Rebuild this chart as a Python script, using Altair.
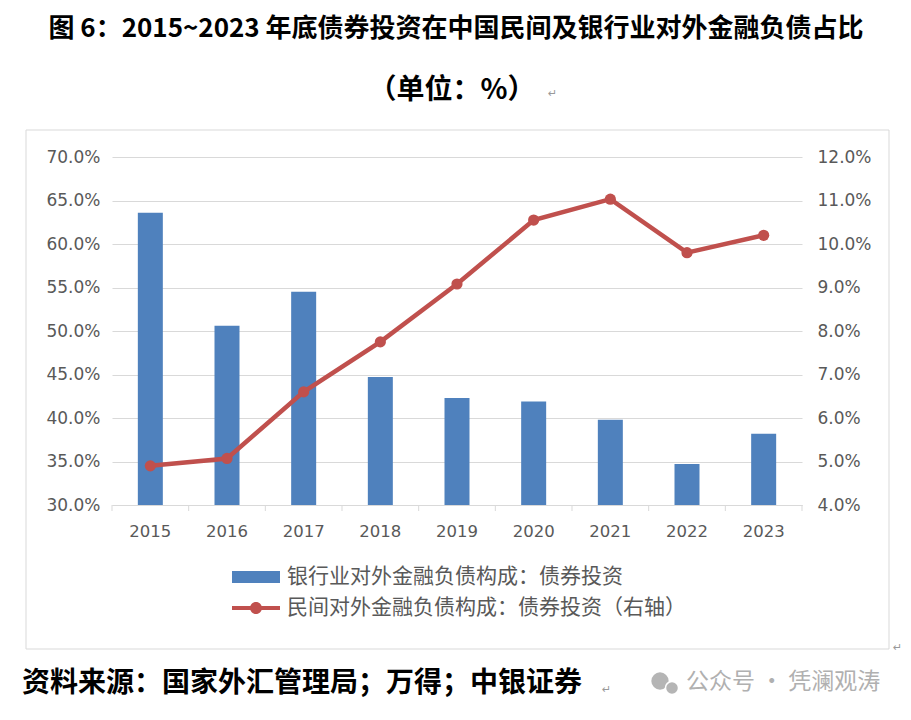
import altair as alt
import pandas as pd

# ---------------- data ----------------
years = ["2015", "2016", "2017", "2018", "2019", "2020", "2021", "2022", "2023"]
bank_bond = [63.6, 50.6, 54.5, 44.7, 42.3, 41.9, 39.8, 34.7, 38.2]      # left axis, %
private_bond = [4.9, 5.07, 6.6, 7.75, 9.08, 10.55, 11.03, 9.8, 10.2]     # right axis, %
left_ticks = [30, 35, 40, 45, 50, 55, 60, 65, 70]
right_ticks = [4, 5, 6, 7, 8, 9, 10, 11, 12]

title_text = "图 6：2015~2023 年底债券投资在中国民间及银行业对外金融负债占比"
subtitle_text = "（单位：%）"
source_text = "资料来源：国家外汇管理局；万得；中银证券"
watermark_text = "公众号 · 凭澜观涛"
bar_label = "银行业对外金融负债构成：债券投资"
line_label = "民间对外金融负债构成：债券投资（右轴）"

df = pd.DataFrame({"year": years, "bank": bank_bond, "private": private_bond,
                   "bar_series": [bar_label] * len(years),
                   "line_series": [line_label] * len(years)})

# ---------------- style ----------------
W, H = 690, 348
BLUE = "#4f81bd"
RED = "#c0504d"
GRID = "#d9d9d9"
LAB = "#595959"
CJK = "Noto Sans CJK SC"

x_axis = alt.Axis(title=None, labelAngle=0, ticks=False, grid=False,
                  domainColor=GRID, domainWidth=1,
                  labelFont="DejaVu Sans", labelFontSize=16.5,
                  labelColor=LAB, labelPadding=18)
x_scale = alt.Scale(paddingInner=0, paddingOuter=0)

def X(**kw):
    return alt.X("year:O", scale=x_scale, axis=x_axis, **kw)

left_axis = alt.Axis(title=None, values=left_ticks, grid=True, gridColor=GRID,
                     domain=False, ticks=False, labelPadding=12,
                     labelFont="DejaVu Sans", labelFontSize=17, labelColor=LAB,
                     labelExpr="format(datum.value, '.1f') + '%'")
right_axis = alt.Axis(title=None, orient="right", values=right_ticks, grid=False,
                      domain=False, ticks=False, labelPadding=15,
                      labelFont="DejaVu Sans", labelFontSize=17, labelColor=LAB,
                      labelExpr="format(datum.value, '.1f') + '%'")

rect_path = "M-1,-0.25H1V0.25H-1Z"
line_dot_path = ("M-1,-0.085H1V0.085H-1Z "
                 "M0.25,0A0.25,0.25 0 1,1 -0.25,0A0.25,0.25 0 1,1 0.25,0Z")

legend_common = dict(title=None, orient="none", padding=0, symbolSize=2304,
                     symbolStrokeWidth=0, labelFont=CJK, labelFontSize=21,
                     labelColor=LAB, labelOffset=7, labelLimit=1000)

base = alt.Chart(df)

bars = base.mark_bar(size=25).encode(
    x=X(),
    y=alt.Y("bank:Q", scale=alt.Scale(domain=[30, 70], nice=False, zero=False),
            axis=left_axis),
    y2=alt.datum(30),
    color=alt.Color("bar_series:N",
                    scale=alt.Scale(domain=[bar_label], range=[BLUE]),
                    legend=alt.Legend(symbolType=rect_path, legendX=120,
                                      legendY=396, **legend_common)),
)

tick_df = pd.DataFrame({"year": years})
xticks = alt.Chart(tick_df).mark_rule(color=GRID, strokeWidth=1).encode(
    x=X(bandPosition=0), y=alt.value(H), y2=alt.value(H + 6))
end_tick = alt.Chart(pd.DataFrame({"year": [years[-1]]})).mark_rule(
    color=GRID, strokeWidth=1).encode(
    x=X(bandPosition=1), y=alt.value(H), y2=alt.value(H + 6))

y_right = alt.Y("private:Q", scale=alt.Scale(domain=[4, 12], nice=False, zero=False),
                axis=right_axis)
line = base.mark_line(color=RED, strokeWidth=4.5).encode(x=X(), y=y_right)
points = base.mark_circle(size=125, opacity=1).encode(
    x=X(), y=y_right,
    fill=alt.Fill("line_series:N",
                  scale=alt.Scale(domain=[line_label], range=[RED]),
                  legend=alt.Legend(symbolType=line_dot_path, legendX=120,
                                    legendY=427, **legend_common)),
)
right_layer = alt.layer(line, points)

one = pd.DataFrame({"t": [""]})

box = alt.Chart(one).mark_rect(fillOpacity=0, stroke=GRID, strokeWidth=1).encode(
    x=alt.value(-86), x2=alt.value(777), y=alt.value(-27), y2=alt.value(492))

def text_layer(txt, x, y, size, color="#000000", weight="bold", align="left", font=CJK):
    return alt.Chart(pd.DataFrame({"t": [txt]})).mark_text(
        font=font, fontSize=size, fontWeight=weight, color=color,
        align=align, baseline="middle").encode(
        text="t:N", x=alt.value(x), y=alt.value(y))

title = text_layer(title_text, 344, -128, 26, align="center")
subtitle = text_layer(subtitle_text, 340, -66, 28, align="center")
source = text_layer(source_text, -90, 527, 28)
watermark = text_layer(watermark_text, 574, 525, 23, color="#b0b0b0", weight="normal")
pm1 = text_layer("↵", 436, -63, 11, color="#999999", weight="normal", font="DejaVu Sans")
pm2 = text_layer("↵", 490, 533, 11, color="#999999", weight="normal", font="DejaVu Sans")
pm3 = text_layer("↵", 781, 491, 11, color="#999999", weight="normal", font="DejaVu Sans")

icon1 = alt.Chart(one).mark_circle(size=300, color="#b5b5b5", opacity=1).encode(
    x=alt.value(548), y=alt.value(524))
icon2 = alt.Chart(one).mark_circle(size=170, color="#b5b5b5", opacity=1,
                                   stroke="white", strokeWidth=1.5).encode(
    x=alt.value(560), y=alt.value(531))

chart = alt.layer(
    box, bars, xticks, end_tick, right_layer,
    title, subtitle, source, watermark, pm1, pm2, pm3, icon1, icon2
).resolve_scale(y="independent").properties(
    width=W, height=H,
    autosize=alt.AutoSizeParams(type="none"),
    padding={"left": 104, "top": 149, "right": 101, "bottom": 200},
).configure_view(stroke=None)

chart.save("out.html", embed_options={"renderer": "svg", "actions": False})
